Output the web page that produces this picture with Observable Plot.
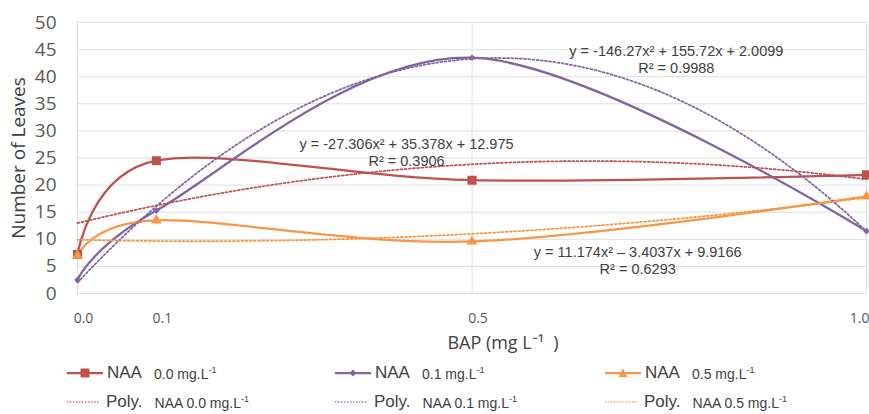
<!DOCTYPE html>
<html><head><meta charset="utf-8">
<script src="https://cdn.jsdelivr.net/npm/d3@7"></script>
<script src="https://cdn.jsdelivr.net/npm/@observablehq/plot@0.6"></script>
<style>
body{margin:0;background:#fff;}
#chart{position:relative;width:869px;}
.legend{position:relative;width:869px;height:56px;font-family:"Liberation Sans",Arial,sans-serif;color:#404040;}
.item{position:absolute;display:flex;align-items:center;white-space:nowrap;height:24px;}
.big{font-size:17px;margin-left:4px;}
.small{font-size:14px;margin-left:12px;}
.small sup{font-size:9px;vertical-align:6px;}
</style></head><body><div id="chart"></div>
<script>
// ---- data ----
const bap = [0, 0.1, 0.5, 1.0];
const xTicks = [0, 0.1, 0.5, 1.0];
const xTickLabels = ["0.0", "0.1", "0.5", "1.0"];
const yTicks = [0, 5, 10, 15, 20, 25, 30, 35, 40, 45, 50];
const xGrid = [0, 0.5, 1.0];
const naaLevels = ["0.0", "0.1", "0.5"];
const leavesNAA00 = [7.2, 24.5, 20.9, 21.9];
const leavesNAA01 = [2.5, 15.3, 43.5, 11.5];
const leavesNAA05 = [7.0, 13.5, 9.6, 17.9];
const colors = ["#C0504D", "#8064A2", "#F79646"];
const symbols = ["square", "diamond2", "triangle"];
// polynomial trendline coefficients (y = a x^2 + b x + c), as printed on the chart
const trendNAA00 = [-27.306, 35.378, 12.975];
const trendNAA01 = [-146.27, 155.72, 2.0099];
const trendNAA05 = [11.174, -3.4037, 9.9166];
const eqTexts = [
  "y = -27.306x² + 35.378x + 12.975\nR² = 0.3906",
  "y = -146.27x² + 155.72x + 2.0099\nR² = 0.9988",
  "y = 11.174x² – 3.4037x + 9.9166\nR² = 0.6293"
];
const eqX = [0.417, 0.759, 0.71];
const eqY = [26.1, 43.3, 6.2];

// ---- build ----
const seriesValues = [leavesNAA00, leavesNAA01, leavesNAA05];
const trends = [trendNAA00, trendNAA01, trendNAA05];
const seriesRows = seriesValues.map(vals => bap.map((x, i) => ({x, y: vals[i]})));
const xs = d3.range(0, 1.0001, 0.01);
const trendRows = trends.map(([a, b, c]) => xs.map(x => ({x, y: a * x * x + b * x + c})));
const eqRows = eqTexts.map((t, i) => ({x: eqX[i], y: eqY[i], t}));
const rs = [5.1, 3.0, 4.0];
const lastTick = xTicks[xTicks.length - 1];
const fmt = d => xTickLabels[xTicks.indexOf(d)];

const marks = [
  Plot.gridY(yTicks, {stroke: "#dedede", strokeOpacity: 1}),
  Plot.gridX(xGrid, {stroke: "#dedede", strokeOpacity: 1}),
  Plot.axisY(yTicks, {tickSize: 0, tickPadding: 21, fontSize: 19, fill: "#595959", label: null}),
  Plot.axisX(xTicks.slice(0, -1), {tickSize: 0, tickPadding: 20, fontSize: 14, fill: "#595959", dx: 6, label: null, tickFormat: fmt}),
  Plot.axisX([lastTick], {tickSize: 0, tickPadding: 20, fontSize: 14, fill: "#595959", dx: 3, textAnchor: "end", label: null, tickFormat: fmt}),
];
seriesRows.forEach((rows, i) => {
  marks.push(Plot.line(rows, {x: "x", y: "y", stroke: colors[i], strokeWidth: 2.25, curve: "cardinal"}));
});
trendRows.forEach((rows, i) => {
  marks.push(Plot.line(rows, {x: "x", y: "y", stroke: colors[i], strokeWidth: 1.75, strokeDasharray: "2,2.2"}));
});
seriesRows.forEach((rows, i) => {
  marks.push(Plot.dot(rows, {x: "x", y: "y", symbol: symbols[i], fill: colors[i], stroke: "none", r: rs[i]}));
});
marks.push(Plot.text(eqRows, {x: "x", y: "y", text: "t", fontSize: 14.5, fill: "#404040", lineHeight: 1.17,
  fontFamily: "Liberation Sans, Arial, sans-serif"}));
marks.push(Plot.text(["Number of Leaves"], {frameAnchor: "left", textAnchor: "middle", rotate: -90, dx: -59, fontSize: 19, fill: "#404040"}));
marks.push(Plot.text(["BAP (mg L⁻¹  )"], {frameAnchor: "bottom", lineAnchor: "middle", dx: 31, dy: 50, fontSize: 18, fill: "#404040"}));

const chart = Plot.plot({
  width: 869,
  height: 358,
  marginLeft: 77,
  marginRight: 3,
  marginTop: 22,
  marginBottom: 65,
  x: {domain: [0, 1]},
  y: {domain: [0, 50]},
  style: {fontFamily: "Open Sans, sans-serif", background: "#fff", overflow: "visible"},
  marks
});
document.getElementById("chart").appendChild(chart);

// ---- legend ----
const legend = document.createElement("div");
legend.className = "legend";
const colX = [67, 335, 605];
const rowY = [3, 32];
naaLevels.forEach((lev, i) => {
  const c = colors[i];
  let marker = "";
  if (symbols[i] === "square") marker = `<rect x="13.5" y="1.5" width="9" height="9" fill="${c}"/>`;
  else if (symbols[i] === "diamond2") marker = `<path d="M18 2.5 L21.5 6 L18 9.5 L14.5 6Z" fill="${c}"/>`;
  else marker = `<path d="M18 1.5 L22.5 10 L13.5 10Z" fill="${c}"/>`;
  const a = document.createElement("div");
  a.className = "item";
  a.style.left = colX[i] + "px"; a.style.top = rowY[0] + "px";
  a.innerHTML = `<svg width="36" height="12"><line x1="0" y1="6" x2="36" y2="6" stroke="${c}" stroke-width="2.25"/>${marker}</svg>` +
    `<span class="big">NAA</span><span class="small">${lev} mg.L<sup>-1</sup></span>`;
  legend.appendChild(a);
  const b = document.createElement("div");
  b.className = "item";
  b.style.left = colX[i] + "px"; b.style.top = rowY[1] + "px";
  b.innerHTML = `<svg width="32" height="12"><line x1="0" y1="6" x2="32" y2="6" stroke="${c}" stroke-width="1.5" stroke-dasharray="1.5,1.5" opacity="0.8"/></svg>` +
    `<span class="big" style="margin-left:7px">Poly.</span><span class="small" style="margin-left:12px">NAA ${lev} mg.L<sup>-1</sup></span>`;
  legend.appendChild(b);
});
document.body.appendChild(legend);
</script>
</body></html>
